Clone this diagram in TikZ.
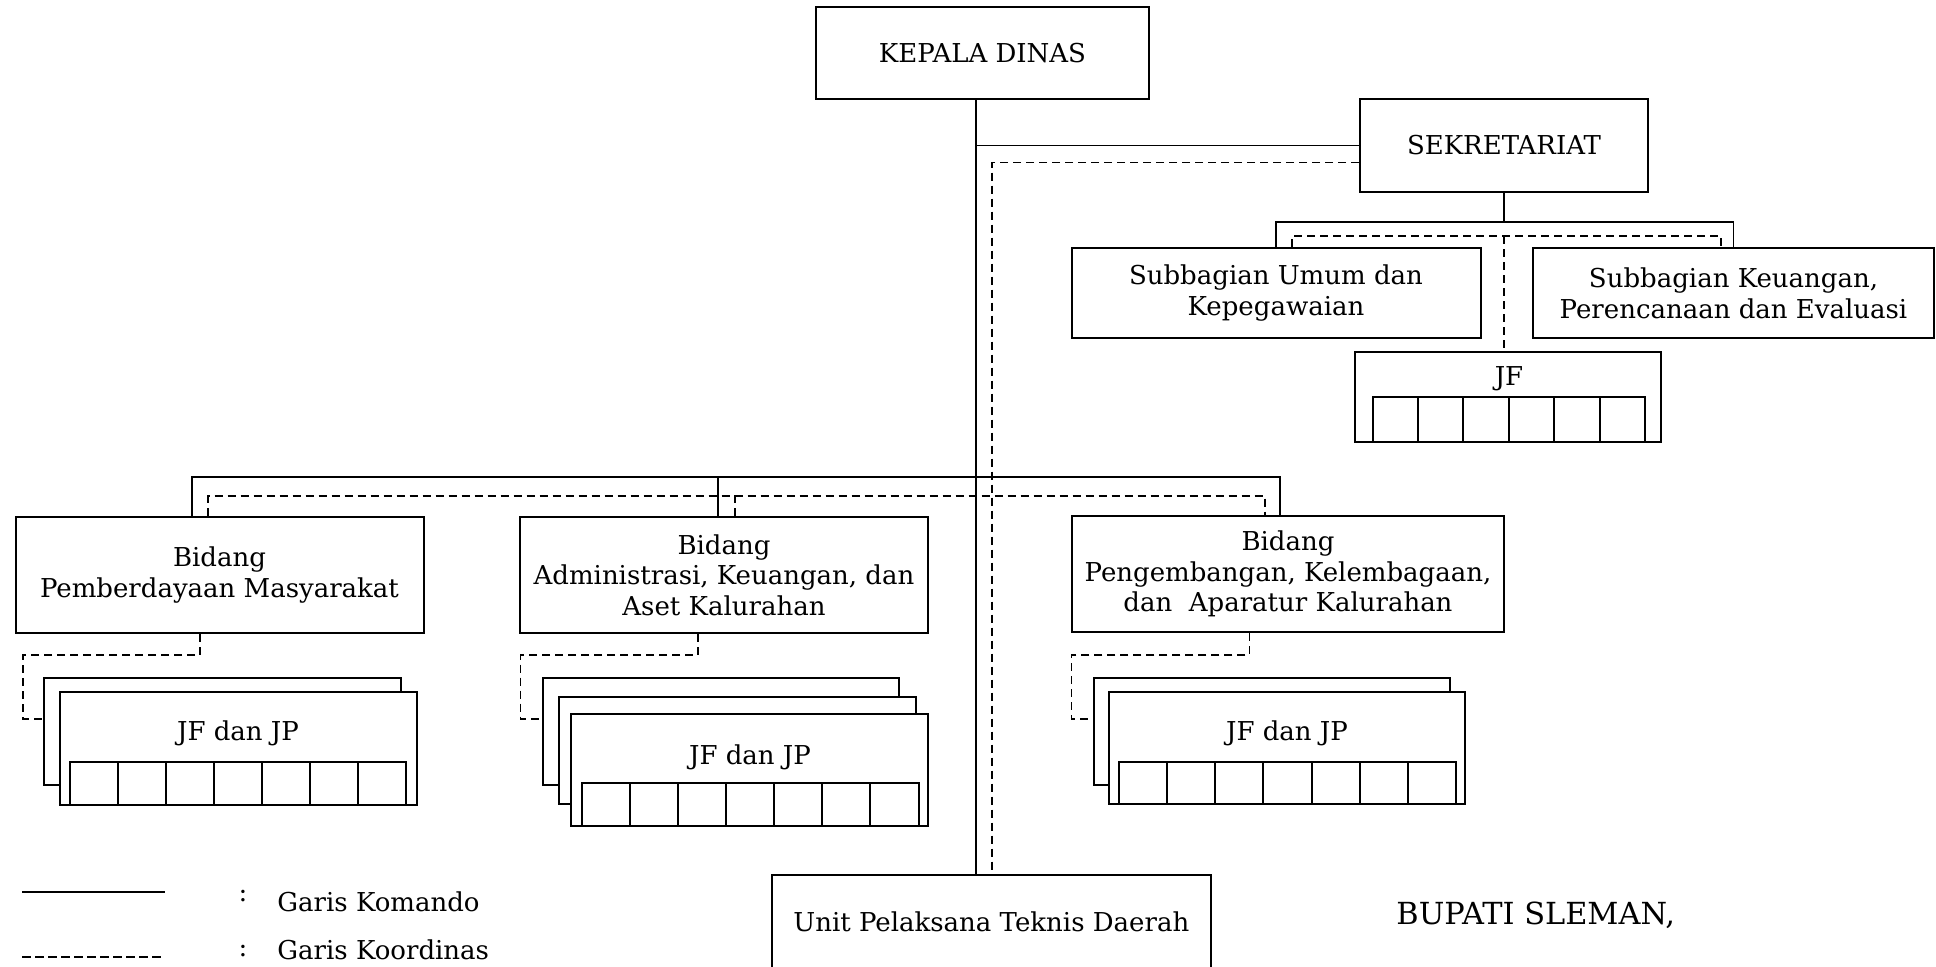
\documentclass[tikz,border=0pt]{standalone}
\usepackage{fontspec}
\setmainfont{DejaVu Serif}
\newcommand{\cellgrid}[5]{%
  \draw[gridl] (#1,#2) rectangle (#3,#4);
  \pgfmathtruncatemacro{\nm}{#5-1}%
  \foreach \k in {1,...,\nm}{\draw[gridl] ({#1+\k*(#3-#1)/#5},#2) -- ({#1+\k*(#3-#1)/#5},#4);}%
}
\begin{document}
\begin{tikzpicture}[x=0.5pt,y=-0.5pt,
  txt/.style={font=\fontsize{13}{15.3}\selectfont},
  box/.style={draw,line width=1pt,fill=white,inner sep=0pt,align=center,txt},
  lbl/.style={inner sep=0pt,align=center,txt},
  cmd/.style={line width=0.85pt},
  crd/.style={line width=0.85pt,dash pattern=on 4pt off 2.5pt},
  gridl/.style={line width=1pt}]
\useasboundingbox (0,0) rectangle (1936,966);
\clip (0,0) rectangle (1936,966);
\fill[white] (0,0) rectangle (1936,966);

% coordinates for bars
\coordinate (mx) at (976,0);
\coordinate (dx) at (992,0);
\coordinate (sbar) at (1504,222);
\coordinate (dbar) at (1504,236);
\coordinate (bbar) at (976,477);
\coordinate (dbbar) at (992,496);

% top boxes
\node[box,minimum width=166.5pt,minimum height=46pt] (kd) at (982.5,53) {KEPALA DINAS};
\node[box,minimum width=144pt,minimum height=46.5pt] (sek) at (1504,145.5) {SEKRETARIAT};
\node[box,minimum width=204.5pt,minimum height=45pt] (subu) at (1276,293) {Subbagian Umum dan\\Kepegawaian};
\node[box,minimum width=200.5pt,minimum height=45pt] (subk) at (1733.5,293) {Subbagian Keuangan,\\Perencanaan dan Evaluasi};
\node[box,minimum width=152.75pt,minimum height=45pt] (jfs) at (1508,397) {};
\node[lbl] (jfst) at (1509,379) {JF};
\cellgrid{1372.5}{397}{1645}{442}{6}

% bidang boxes
\node[box,minimum width=204pt,minimum height=58.25pt] (bp) at (219.5,574.75) {Bidang\\Pemberdayaan Masyarakat};
\node[box,minimum width=204pt,minimum height=58pt] (ba) at (724,575) {Bidang\\Administrasi, Keuangan, dan\\Aset Kalurahan};
\node[box,minimum width=216pt,minimum height=58pt] (bk) at (1288,574) {Bidang\\Pengembangan, Kelembagaan,\\dan~~Aparatur Kalurahan};

% stacks
\node[box,minimum width=178.5pt,minimum height=53.5pt] (bpb) at (222.5,731.5) {};
\node[box,minimum width=178.5pt,minimum height=56.5pt] (bpf) at (238,748.5) {};
\node[lbl] (bpt) at (238,733) {JF dan JP};
\cellgrid{70.4}{762}{406}{805}{7}

\node[box,minimum width=178pt,minimum height=53.5pt] (bab) at (721,731.5) {};
\node[box,minimum width=178.5pt,minimum height=53.5pt] (bam) at (737,750.5) {};
\node[box,minimum width=178.2pt,minimum height=56pt] (baf) at (749.5,770) {};
\node[lbl] (bat) at (750,757) {JF dan JP};
\cellgrid{582}{783}{918.5}{826}{7}

\node[box,minimum width=178pt,minimum height=53.5pt] (bkb) at (1272,731.5) {};
\node[box,minimum width=178pt,minimum height=56pt] (bkf) at (1287,748) {};
\node[lbl] (bkt) at (1287,733) {JF dan JP};
\cellgrid{1119}{762}{1456}{804}{7}

% UPT
\node[box,minimum width=219.7pt,minimum height=46.5pt] (upt) at (991.3,921.5) {Unit Pelaksana Teknis Daerah};

% command lines
\draw[cmd] (mx |- kd.south) -- (mx |- upt.north);
\draw[cmd] (mx |- sek.west) -- (sek.west);
\draw[cmd] (sek.south) -- (sbar);
\draw[cmd] (subu.north) |- (sbar) -| (subk.north);
\draw[cmd] ([xshift=-13.75pt]bp.north) |- (bbar) -| ([xshift=-4pt]bk.north);
\draw[cmd] ([xshift=-3pt]ba.north) -- ++(0,-40);

% coordination lines
\coordinate (sekd) at ([yshift=-8.5pt]sek.west);
\draw[crd] (sekd) -- (dx |- sekd) -- (dx |- upt.north);
\draw[crd] ([xshift=8pt]subu.north) |- (dbar) -| ([xshift=-6.25pt]subk.north);
\draw[crd] (dbar) -- (dbar |- jfs.north);
\draw[crd] ([xshift=-5.75pt]bp.north) |- (dbbar) -| ([xshift=-11.5pt]bk.north);
\draw[crd] ([xshift=5.5pt]ba.north) -- ++(0,-21);
\draw[crd] ([xshift=-9.75pt]bp.south) -- ++(0,21) -- ++(-177,0) |- ([yshift=6.25pt]bpb.west);
\draw[crd] ([xshift=-13pt]ba.south) -- ++(0,21) -- ++(-177.5,0) |- ([yshift=6.25pt]bab.west);
\draw[crd] ([xshift=-19.3pt]bk.south) -- ++(0,22) -- ++(-178,0) |- ([yshift=6.25pt]bkb.west);

% legend
\draw[line width=1.2pt] (22,892) -- (165,892);
\draw[line width=0.8pt,dash pattern=on 4.5pt off 2pt] (22,957) -- (165,957);
\node[lbl] (c1) at (243,896) {:};
\node[lbl] (c2) at (243,951) {:};
\node[lbl,anchor=west] (g1) at (277,902) {Garis Komando};
\node[lbl,anchor=west] (g2) at (277,950) {Garis Koordinas};

\node[lbl,anchor=base west,font=\fontsize{15.2}{17}\selectfont] (bup) at (1396,924) {BUPATI SLEMAN,};
\end{tikzpicture}
\end{document}
